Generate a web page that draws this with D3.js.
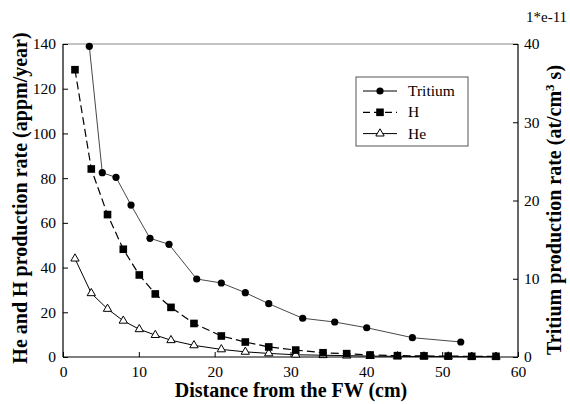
<!DOCTYPE html>
<html>
<head>
<meta charset="utf-8">
<script src="https://cdn.jsdelivr.net/npm/d3@7"></script>
<style>
  body { margin: 0; background: #fff; }
  text { font-family: 'Liberation Serif', 'Times New Roman', serif; fill: #000; }
  .tick-label { font-size: 15.5px; }
  .axis-title { font-size: 20px; font-weight: bold; }
</style>
</head>
<body>
<svg id="chart" width="570" height="404"></svg>
<script>
// distance from the FW (cm)
const tritiumX = [3.47, 5.18, 6.99, 8.97, 11.47, 13.98, 17.63, 20.88, 24.04, 27.13, 31.61, 35.83, 40.05, 46.07, 52.45];
// tritium production rate (1e-11 at/cm3 s)
const tritiumY = [39.7, 23.55, 22.96, 19.42, 15.17, 14.40, 9.97, 9.46, 8.22, 6.81, 4.95, 4.47, 3.74, 2.47, 1.92];

const hheX = [1.58, 3.73, 5.87, 7.95, 10.06, 12.17, 14.24, 17.27, 20.88, 24.04, 27.13, 30.69, 34.29, 37.41, 40.5, 44.1, 47.6, 50.8, 53.9, 57.1];
// appm/year
const hY = [128.5, 84.1, 63.7, 48.2, 36.7, 28.2, 22.2, 15.0, 9.4, 6.7, 4.5, 3.1, 1.9, 1.5, 0.9, 0.6, 0.5, 0.4, 0.3, 0.3];
const heY = [44.0, 28.5, 21.5, 16.2, 12.4, 9.8, 7.5, 5.2, 3.4, 2.3, 1.6, 1.0, 0.8, 0.6, 0.4, 0.3, 0.2, 0.2, 0.1, 0.1];

const xTicks = [0, 10, 20, 30, 40, 50, 60];
const leftTicks = [0, 20, 40, 60, 80, 100, 120, 140];
const rightTicks = [0, 10, 20, 30, 40];
const legendLabels = ['Tritium', 'H', 'He'];

const margin = { top: 44, left: 63, right: 52, bottom: 47 };
const W = 570, H = 404;
const width = W - margin.left - margin.right;
const height = H - margin.top - margin.bottom;

const svg = d3.select('#chart');
const g = svg.append('g').attr('transform', `translate(${margin.left},${margin.top})`);

const x = d3.scaleLinear().domain([0, 60]).range([0, width]);
const yL = d3.scaleLinear().domain([0, 140]).range([height, 0]);
const yR = d3.scaleLinear().domain([0, 40]).range([height, 0]);

// frame top
g.append('line').attr('x1', 0).attr('x2', width).attr('y1', 0).attr('y2', 0)
  .attr('stroke', '#888').attr('stroke-width', 1);

const xAxis = d3.axisBottom(x).tickValues(xTicks).tickSize(-5).tickPadding(9);
const yAxisL = d3.axisLeft(yL).tickValues(leftTicks).tickSize(-5).tickPadding(7);
const yAxisR = d3.axisRight(yR).tickValues(rightTicks).tickSize(-5).tickPadding(6);

const styleAxis = sel => {
  sel.attr('font-family', 'Liberation Serif').attr('font-size', null);
  sel.select('.domain').attr('stroke', '#000').attr('stroke-width', 1.2);
  sel.selectAll('.tick line').attr('stroke', '#000');
  sel.selectAll('.tick text').attr('class', 'tick-label');
};

g.append('g').attr('transform', `translate(0,${height})`).call(xAxis)
  .call(s => s.select('.domain').attr('d', `M0,0H${width}`)).call(styleAxis);
g.append('g').call(yAxisL)
  .call(s => s.select('.domain').attr('d', `M0,0V${height}`)).call(styleAxis);
g.append('g').attr('transform', `translate(${width},0)`).call(yAxisR)
  .call(s => s.select('.domain').attr('d', `M0,0V${height}`)).call(styleAxis);

// lines
const tritium = tritiumX.map((d, i) => [d, tritiumY[i]]);
const hData = hheX.map((d, i) => [d, hY[i]]);
const heData = hheX.map((d, i) => [d, heY[i]]);

const lineR = d3.line().x(d => x(d[0])).y(d => yR(d[1]));
const lineL = d3.line().x(d => x(d[0])).y(d => yL(d[1]));

g.append('path').datum(heData).attr('d', lineL)
  .attr('fill', 'none').attr('stroke', '#000').attr('stroke-width', 1);
g.append('path').datum(hData).attr('d', lineL)
  .attr('fill', 'none').attr('stroke', '#000').attr('stroke-width', 1.2).attr('stroke-dasharray', '8,4');
g.append('path').datum(tritium).attr('d', lineR)
  .attr('fill', 'none').attr('stroke', '#333').attr('stroke-width', 0.9);

const tri = d3.symbol().type(d3.symbolTriangle).size(30);
const sq = d3.symbol().type(d3.symbolSquare).size(58);

g.selectAll('.he').data(heData).enter().append('path')
  .attr('transform', d => `translate(${x(d[0])},${yL(d[1])})`)
  .attr('d', tri).attr('fill', '#fff').attr('stroke', '#000').attr('stroke-width', 1);
g.selectAll('.h').data(hData).enter().append('path')
  .attr('transform', d => `translate(${x(d[0])},${yL(d[1])})`)
  .attr('d', sq).attr('fill', '#000');
g.selectAll('.t').data(tritium).enter().append('circle')
  .attr('cx', d => x(d[0])).attr('cy', d => yR(d[1])).attr('r', 3.6).attr('fill', '#000');

// legend
const lg = svg.append('g').attr('transform', 'translate(356,77)');
lg.append('rect').attr('width', 112).attr('height', 69)
  .attr('fill', '#fff').attr('stroke', '#555').attr('stroke-width', 1);
legendLabels.forEach((label, i) => {
  const yy = 14 + i * 21.3;
  const row = lg.append('g').attr('transform', `translate(0,${yy})`);
  const ln = row.append('line').attr('x1', 7).attr('x2', 41).attr('stroke', '#000').attr('stroke-width', 1);
  if (i === 1) ln.attr('stroke-dasharray', '7,4').attr('stroke-width', 1.2);
  if (i === 0) row.append('circle').attr('cx', 24).attr('r', 3.6).attr('fill', '#000');
  if (i === 1) row.append('path').attr('transform', 'translate(24,0)').attr('d', sq).attr('fill', '#000');
  if (i === 2) row.append('path').attr('transform', 'translate(24,0)').attr('d', tri)
    .attr('fill', '#fff').attr('stroke', '#000');
  row.append('text').attr('x', 52).attr('y', 5).attr('font-size', '15.5px').text(label);
});

// titles
svg.append('text').attr('class', 'axis-title')
  .attr('transform', `translate(27,198) rotate(-90)`)
  .attr('text-anchor', 'middle').text('He and H production rate (appm/year)');

const rt = svg.append('text').attr('class', 'axis-title')
  .attr('transform', `translate(561,210) rotate(-90)`)
  .attr('text-anchor', 'middle');
rt.append('tspan').text('Tritium production rate (at/cm');
rt.append('tspan').attr('dy', -7).attr('font-size', '13px').text('3');
rt.append('tspan').attr('dy', 7).text(' s)');

svg.append('text').attr('class', 'axis-title')
  .attr('x', 291).attr('y', 397)
  .attr('text-anchor', 'middle').text('Distance from the FW (cm)');

svg.append('text').attr('x', 526).attr('y', 22).attr('font-size', '15px').text('1*e-11');
</script>
</body>
</html>
